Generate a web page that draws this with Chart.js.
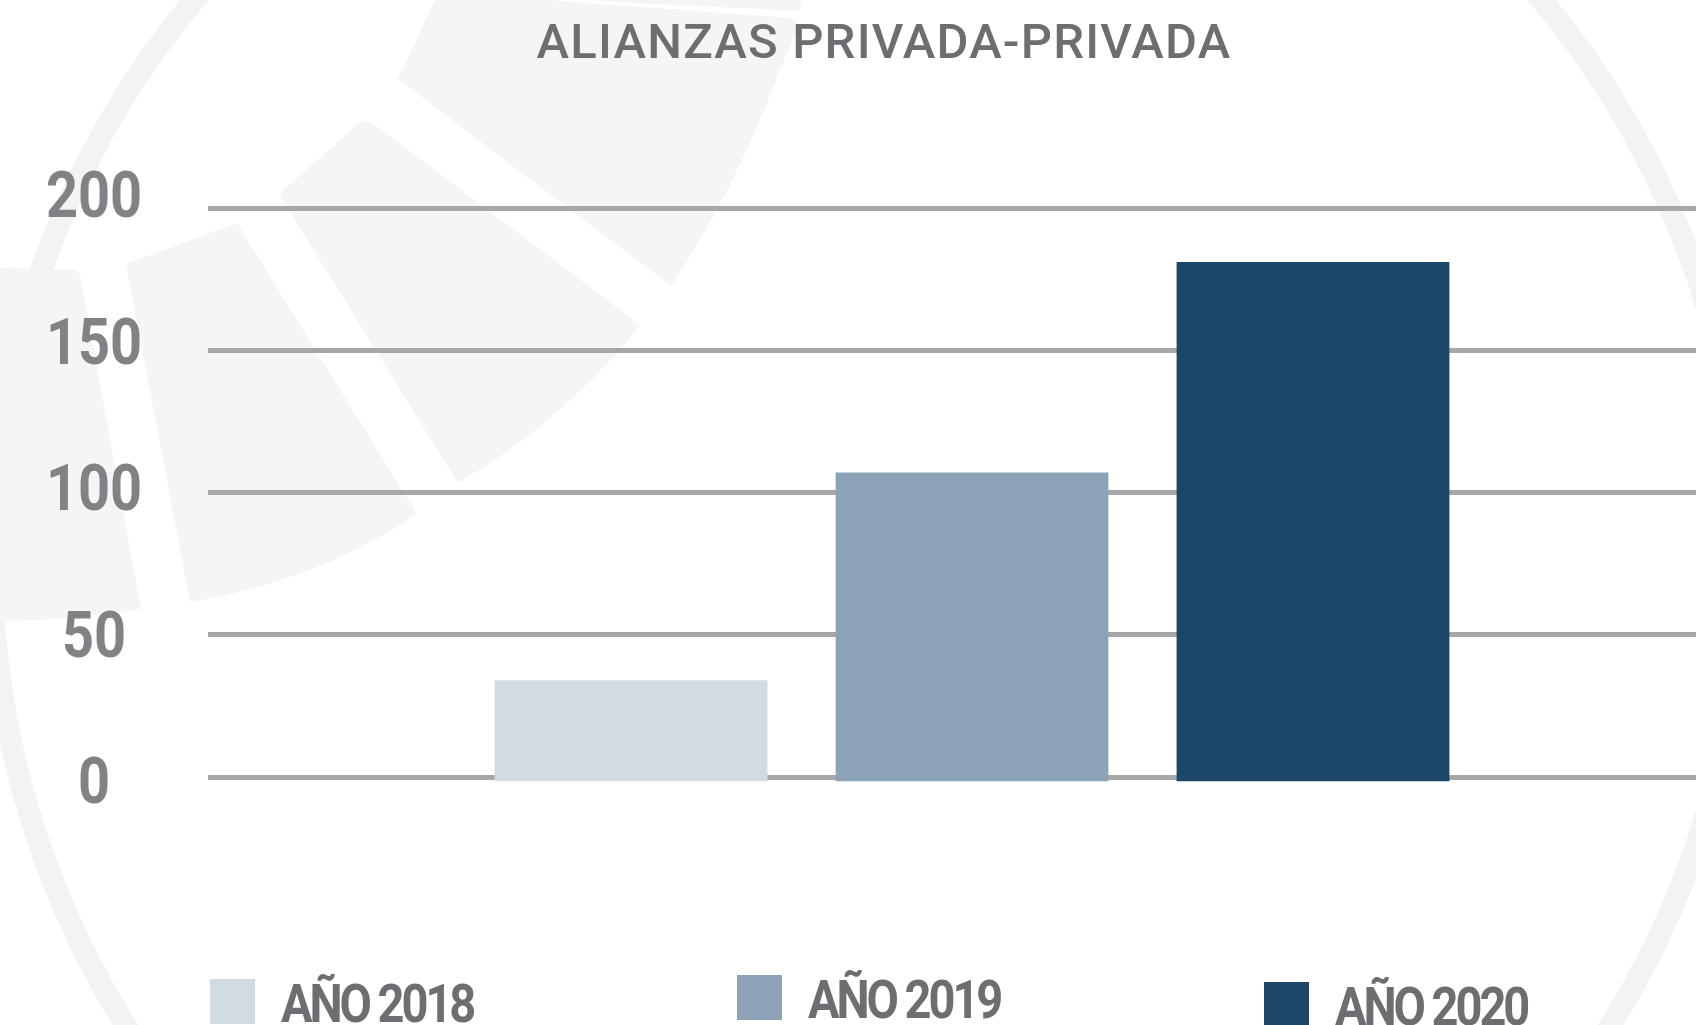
<!DOCTYPE html>
<html>
<head>
<meta charset="utf-8">
<script src="https://cdn.jsdelivr.net/npm/chart.js@4.4.0/dist/chart.umd.min.js"></script>
<style>
  html, body { margin: 0; padding: 0; background: #fff; overflow: hidden; }
  #wrap { position: relative; width: 1696px; height: 1025px; overflow: hidden; }
  #fondo, #grafico { position: absolute; left: 0; top: 0; }
  #titulo {
    position: absolute; left: 884px; top: 17px; transform: translateX(-50%);
    font-family: Roboto, sans-serif; font-size: 49px; line-height: 49px; font-weight: 500;
    letter-spacing: 1.2px; color: #6d6e71; white-space: nowrap;
  }
  #leyenda { position: absolute; left: 210px; top: 977px; display: flex; }
  #leyenda .item { width: 527px; display: flex; align-items: flex-start; }
  #leyenda .item:nth-child(2) { margin-top: -4px; }
  #leyenda .item:nth-child(3) { margin-top: 3px; }
  #leyenda .caja { width: 45px; height: 45px; margin-top: 2px; }
  #leyenda .txt {
    margin-left: 26px; font-family: Roboto, sans-serif; font-weight: bold;
    font-size: 54px; line-height: 54px; color: #6d6e71; letter-spacing: -3.5px;
    transform: scaleX(0.87); transform-origin: left top; white-space: nowrap;
  }
</style>
</head>
<body>
<div id="wrap">
  <svg id="fondo" width="1696" height="1025">
    <circle cx="868" cy="560" r="876" fill="none" stroke="#f3f3f3" stroke-width="22"/>
    <g fill="#f5f5f5">
      <path d="M0,268 L74,270 Q80,272 81,280 L141,609 Q70,620 0,621 Z"/>
      <path d="M126,264 L237,223 L417,514 Q320,580 190,602 Z"/>
      <path d="M279,194 L358,124 Q366,118 374,124 L640,325 Q565,420 458,483 Z"/>
      <path d="M398,79 L435,0 L548,0 L792,18 Q800,22 797,30 L779,72 Q735,190 671,286 Z"/>
      <path d="M580,0 L802,0 L799,11 Z"/>
    </g>
  </svg>
  <canvas id="grafico" width="1696" height="1025"></canvas>
  <div id="titulo">ALIANZAS PRIVADA-PRIVADA</div>
  <div id="leyenda"></div>
</div>
<script>
const categorias = ['ALIANZAS PRIVADA-PRIVADA']
const anios = ['AÑO 2018', 'AÑO 2019', 'AÑO 2020']
const alianzas = [34, 107, 181]
const ticksY = [0, 50, 100, 150, 200]
const colores = ['#d2dae2', '#8ca3b7', '#1c4769']

// una sola categoria, un dataset por año (asi sale la leyenda)
const datasets = anios.map(function(a, i){
  return {
    label: a,
    data: [alianzas[i]],
    backgroundColor: colores[i],
    borderWidth: 0,
    base: -1.5,
    clip: false,
    barPercentage: 0.8,
    categoryPercentage: 0.7065,
    yAxisID: 'y'
  }
})

function fijarTicks(scale){
  scale.ticks = ticksY.map(function(v){ return { value: v } })
}

// numeros del eje un poco mas angostos (letra condensada)
const angosto = {
  id: 'angosto',
  afterLayout: function(chart){
    const s = chart.scales.y2
    if (s._angosto) return
    const orig = s.drawLabels.bind(s)
    s.drawLabels = function(area){
      const ctx = chart.ctx
      const items = s.getLabelItems(area)
      const cx = items.length ? items[0].options.translation[0] : 0
      ctx.save()
      ctx.translate(cx, 0)
      ctx.scale(0.86, 1)
      ctx.translate(-cx, 0)
      orig(area)
      ctx.restore()
    }
    s._angosto = true
  }
}

const chart = new Chart('grafico', {
  type: 'bar',
  data: {
    labels: categorias,
    datasets: datasets
  },
  plugins: [angosto],
  options: {
    responsive: false,
    animation: false,
    devicePixelRatio: 1,
    layout: { padding: { top: 208, bottom: 248, left: 0, right: 0 } },
    plugins: {
      legend: { display: false },
      title: { display: false },
      tooltip: { enabled: false }
    },
    scales: {
      x: { display: false },
      y: {
        position: 'left',
        weight: 0,
        min: 0,
        max: 200,
        afterBuildTicks: fijarTicks,
        afterFit: function(s){ s.width = 40 },
        grid: { color: '#a7a7a7', lineWidth: 5, tickLength: 40, drawTicks: true },
        border: { display: false },
        ticks: { display: false }
      },
      // eje solo para los numeros, un poco mas abiertos que las lineas
      y2: {
        position: 'left',
        weight: 1,
        min: 3.4,
        max: 197.6,
        afterBuildTicks: fijarTicks,
        afterFit: function(s){ s.width = 208 },
        grid: { display: false },
        border: { display: false },
        ticks: {
          crossAlign: 'center',
          padding: 50,
          color: '#808285',
          font: { family: 'Roboto', weight: 'bold', size: 65 }
        }
      }
    }
  }
})

// leyenda en html
const leyenda = document.getElementById('leyenda')
chart.data.datasets.forEach(function(ds){
  const item = document.createElement('div')
  item.className = 'item'
  const caja = document.createElement('div')
  caja.className = 'caja'
  caja.style.background = ds.backgroundColor
  const txt = document.createElement('div')
  txt.className = 'txt'
  txt.textContent = ds.label
  item.appendChild(caja)
  item.appendChild(txt)
  leyenda.appendChild(item)
})
</script>
</body>
</html>
